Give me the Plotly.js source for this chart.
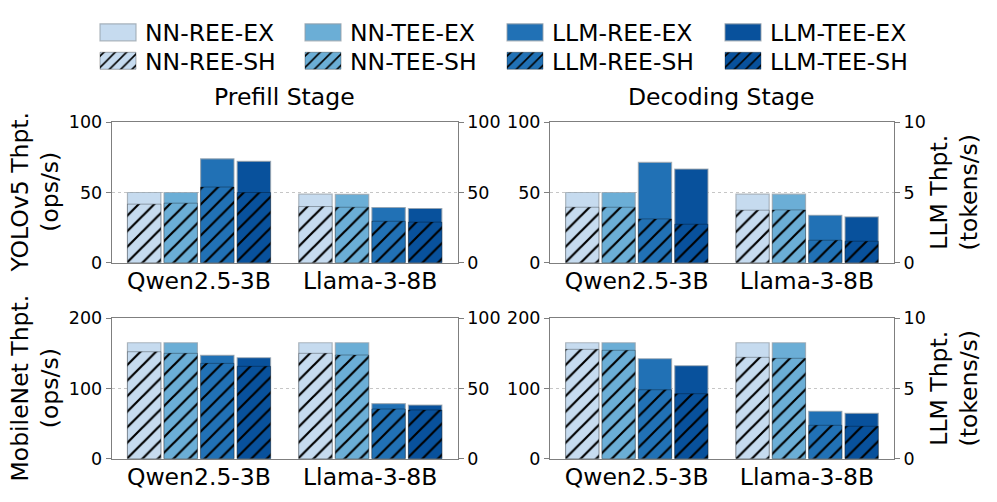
<!DOCTYPE html>
<html><head><meta charset="utf-8">
<script src="https://cdn.plot.ly/plotly-3.0.1.min.js"></script>
<style>html,body{margin:0;padding:0;background:#fff}</style>
</head><body><div id="chart" style="width:997px;height:502px"></div>
<script>
// ---------- data ----------
const categories = ['Qwen2.5-3B', 'Llama-3-8B'];
const seriesNames = ['NN-REE', 'NN-TEE', 'LLM-REE', 'LLM-TEE'];

// YOLOv5 / Prefill (left axis ops/s for NN, right axis ops/s for LLM)
const yoloPrefillNnReeEx = [50.0, 48.8];
const yoloPrefillNnReeSh = [41.7, 40.0];
const yoloPrefillNnTeeEx = [50.0, 48.6];
const yoloPrefillNnTeeSh = [42.4, 39.5];
const yoloPrefillLlmReeEx = [74.0, 39.3];
const yoloPrefillLlmReeSh = [53.9, 29.5];
const yoloPrefillLlmTeeEx = [72.2, 38.6];
const yoloPrefillLlmTeeSh = [50.0, 28.9];

// YOLOv5 / Decoding (right axis tokens/s)
const yoloDecodeNnReeEx = [50.0, 48.8];
const yoloDecodeNnReeSh = [39.5, 37.4];
const yoloDecodeNnTeeEx = [50.0, 48.8];
const yoloDecodeNnTeeSh = [39.5, 37.6];
const yoloDecodeLlmReeEx = [7.14, 3.38];
const yoloDecodeLlmReeSh = [3.12, 1.60];
const yoloDecodeLlmTeeEx = [6.67, 3.26];
const yoloDecodeLlmTeeSh = [2.74, 1.53];

// MobileNet / Prefill
const mobPrefillNnReeEx = [165.2, 165.2];
const mobPrefillNnReeSh = [152.4, 150.1];
const mobPrefillNnTeeEx = [165.2, 165.2];
const mobPrefillNnTeeSh = [150.1, 147.7];
const mobPrefillLlmReeEx = [73.6, 39.2];
const mobPrefillLlmReeSh = [67.9, 35.4];
const mobPrefillLlmTeeEx = [71.9, 38.2];
const mobPrefillLlmTeeSh = [65.8, 34.7];

// MobileNet / Decoding
const mobDecodeNnReeEx = [165.2, 165.2];
const mobDecodeNnReeSh = [155.8, 144.4];
const mobDecodeNnTeeEx = [165.2, 165.2];
const mobDecodeNnTeeSh = [154.4, 143.0];
const mobDecodeLlmReeEx = [7.12, 3.38];
const mobDecodeLlmReeSh = [4.91, 2.38];
const mobDecodeLlmTeeEx = [6.62, 3.23];
const mobDecodeLlmTeeSh = [4.63, 2.31];

// ---------- style ----------
const FONT = 'DejaVu Sans, Liberation Sans, sans-serif';
const colors = ['#c6dbef', '#6baed6', '#2171b5', '#08519c'];
const spine = '#7f7f7f';
const W = 997, H = 502;
const barWidth = 0.195, barStep = 0.2135, barStart = -0.417;

const panels = [
  {xa: 'x',  yl: 'y',  yr: 'y2',
   ex: [yoloPrefillNnReeEx, yoloPrefillNnTeeEx, yoloPrefillLlmReeEx, yoloPrefillLlmTeeEx],
   sh: [yoloPrefillNnReeSh, yoloPrefillNnTeeSh, yoloPrefillLlmReeSh, yoloPrefillLlmTeeSh]},
  {xa: 'x2', yl: 'y3', yr: 'y4',
   ex: [yoloDecodeNnReeEx, yoloDecodeNnTeeEx, yoloDecodeLlmReeEx, yoloDecodeLlmTeeEx],
   sh: [yoloDecodeNnReeSh, yoloDecodeNnTeeSh, yoloDecodeLlmReeSh, yoloDecodeLlmTeeSh]},
  {xa: 'x3', yl: 'y5', yr: 'y6',
   ex: [mobPrefillNnReeEx, mobPrefillNnTeeEx, mobPrefillLlmReeEx, mobPrefillLlmTeeEx],
   sh: [mobPrefillNnReeSh, mobPrefillNnTeeSh, mobPrefillLlmReeSh, mobPrefillLlmTeeSh]},
  {xa: 'x4', yl: 'y7', yr: 'y8',
   ex: [mobDecodeNnReeEx, mobDecodeNnTeeEx, mobDecodeLlmReeEx, mobDecodeLlmTeeEx],
   sh: [mobDecodeNnReeSh, mobDecodeNnTeeSh, mobDecodeLlmReeSh, mobDecodeLlmTeeSh]},
];

// one legend per entry: EX row = legend..legend4, SH row = legend5..legend8
const legendIds = ['legend', 'legend2', 'legend3', 'legend4', 'legend5', 'legend6', 'legend7', 'legend8'];
const traces = [];
panels.forEach((p, pi) => {
  ['ex', 'sh'].forEach((kind, ki) => {
    for (let i = 0; i < 4; i++) {
      const t = {
        type: 'bar',
        x: categories,
        y: p[kind][i],
        name: seriesNames[i] + (kind === 'ex' ? '-EX' : '-SH'),
        xaxis: p.xa,
        yaxis: i < 2 ? p.yl : p.yr,
        width: barWidth,
        offset: barStart + i * barStep,
        legend: legendIds[ki * 4 + i],
        showlegend: pi === 0,
        hoverinfo: 'x+y+name',
      };
      if (kind === 'ex') {
        t.marker = {color: colors[i], line: {color: 'rgba(150,160,170,0.75)', width: 1.2}};
      } else {
        t.marker = {color: colors[i], line: {color: 'rgba(0,0,0,0.3)', width: 1},
          pattern: {shape: '/', fgcolor: '#000', bgcolor: colors[i], fillmode: 'replace', size: 11, solidity: 0.2}};
      }
      traces.push(t);
    }
  });
});

const xDomL = [111.7 / W, 457.7 / W];
const xDomR = [550 / W, 894 / W];
const yDomT = [1 - 262.7 / H, 1 - 122.3 / H];
const yDomB = [1 - 458.7 / H, 1 - 318.3 / H];

function xAxis(domain, anchor) {
  return {domain, anchor, type: 'category', range: [-0.509, 1.511],
    showline: true, mirror: true, linecolor: spine, linewidth: 1,
    ticks: '', ticklabelstandoff: -3, showgrid: false, zeroline: false, fixedrange: true,
    tickfont: {size: 23.5, family: FONT, color: '#000'}};
}
function yAxisL(domain, anchor, range, dtick) {
  return {domain, anchor, range, tick0: 0, dtick,
    showline: true, linecolor: spine, linewidth: 1,
    ticks: 'outside', ticklen: 5, tickwidth: 1, tickcolor: spine,
    showgrid: true, gridcolor: '#b8b8b8', griddash: 'dot', gridwidth: 0.8,
    zeroline: false, fixedrange: true,
    tickfont: {size: 17.5, family: FONT, color: '#000'}};
}
function yAxisR(domain, anchor, overlay, range, dtick) {
  return {domain, anchor, overlaying: overlay, side: 'right', range, tick0: 0, dtick,
    showline: true, linecolor: spine, linewidth: 1,
    ticks: 'outside', ticklen: 5, tickwidth: 1, tickcolor: spine,
    showgrid: false, zeroline: false, fixedrange: true,
    tickfont: {size: 17.5, family: FONT, color: '#000'}};
}

const legendBase = {orientation: 'v', xanchor: 'left', yanchor: 'middle',
  font: {size: 23.5, family: FONT, color: '#000'}, itemwidth: 44,
  bgcolor: 'rgba(0,0,0,0)', borderwidth: 0, traceorder: 'normal',
  itemclick: false, itemdoubleclick: false};
const swatchLefts = [97, 302, 504, 722];
const rowCenters = [32.5, 61];

const titleFont = {size: 23.5, family: FONT, color: '#000'};
const layout = {
  width: W, height: H,
  margin: {l: 0, r: 0, t: 0, b: 0},
  paper_bgcolor: '#fff', plot_bgcolor: 'rgba(0,0,0,0)',
  barmode: 'overlay',
  font: {family: FONT, color: '#000'},
  xaxis: xAxis(xDomL, 'y'),
  xaxis2: xAxis(xDomR, 'y3'),
  xaxis3: xAxis(xDomL, 'y5'),
  xaxis4: xAxis(xDomR, 'y7'),
  yaxis: yAxisL(yDomT, 'x', [0, 100], 50),
  yaxis2: yAxisR(yDomT, 'x', 'y', [0, 100], 50),
  yaxis3: yAxisL(yDomT, 'x2', [0, 100], 50),
  yaxis4: yAxisR(yDomT, 'x2', 'y3', [0, 10], 5),
  yaxis5: yAxisL(yDomB, 'x3', [0, 200], 100),
  yaxis6: yAxisR(yDomB, 'x3', 'y5', [0, 100], 50),
  yaxis7: yAxisL(yDomB, 'x4', [0, 200], 100),
  yaxis8: yAxisR(yDomB, 'x4', 'y7', [0, 10], 5),
  annotations: [
    {text: 'Prefill Stage', x: (xDomL[0] + xDomL[1]) / 2, y: 1 - 97 / H, xref: 'paper', yref: 'paper',
     showarrow: false, xanchor: 'center', yanchor: 'middle', font: titleFont},
    {text: 'Decoding Stage', x: (xDomR[0] + xDomR[1]) / 2, y: 1 - 97 / H, xref: 'paper', yref: 'paper',
     showarrow: false, xanchor: 'center', yanchor: 'middle', font: titleFont},
    {text: 'YOLOv5 Thpt.<br>(ops/s)', x: 35 / W, y: (yDomT[0] + yDomT[1]) / 2, xref: 'paper', yref: 'paper',
     showarrow: false, xanchor: 'center', yanchor: 'middle', textangle: -90, font: titleFont},
    {text: 'MobileNet Thpt.<br>(ops/s)', x: 35 / W, y: (yDomB[0] + yDomB[1]) / 2, xref: 'paper', yref: 'paper',
     showarrow: false, xanchor: 'center', yanchor: 'middle', textangle: -90, font: titleFont},
    {text: 'LLM Thpt.<br>(tokens/s)', x: 954 / W, y: (yDomT[0] + yDomT[1]) / 2, xref: 'paper', yref: 'paper',
     showarrow: false, xanchor: 'center', yanchor: 'middle', textangle: -90, font: titleFont},
    {text: 'LLM Thpt.<br>(tokens/s)', x: 954 / W, y: (yDomB[0] + yDomB[1]) / 2, xref: 'paper', yref: 'paper',
     showarrow: false, xanchor: 'center', yanchor: 'middle', textangle: -90, font: titleFont},
  ],
};
legendIds.forEach((id, k) => {
  layout[id] = Object.assign({}, legendBase, {
    x: (swatchLefts[k % 4] - 6) / W,
    y: 1 - rowCenters[Math.floor(k / 4)] / H,
  });
});

Plotly.newPlot('chart', traces, layout, {staticPlot: true, displayModeBar: false}).then(gd => {
  // widen the legend swatches to matplotlib-like rectangles
  gd.querySelectorAll('.legendpoints path').forEach(p => {
    p.setAttribute('d', 'M18,8.5H-18V-8.5H18Z');
  });
});
</script>
</body></html>
